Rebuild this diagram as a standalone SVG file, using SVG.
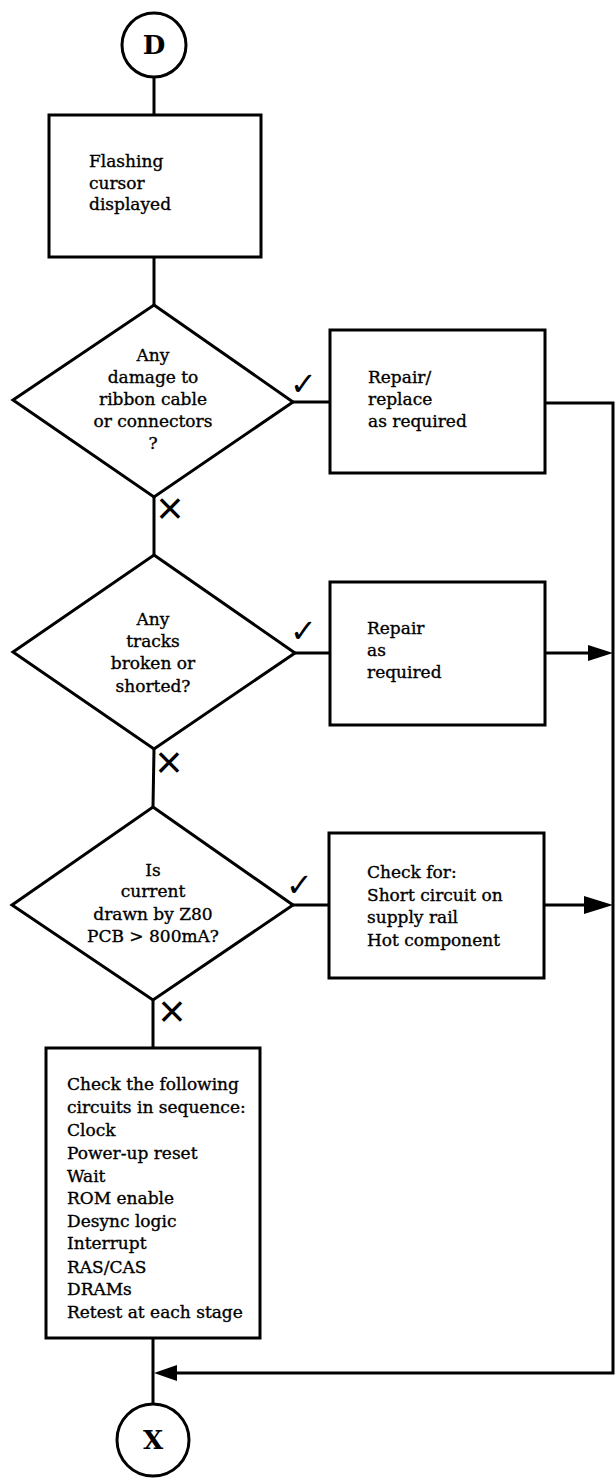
<svg xmlns="http://www.w3.org/2000/svg" width="615" height="1481" viewBox="0 0 615 1481">
<style>
.shape{fill:#fff;stroke:#000;stroke-width:3}
.ln{fill:none;stroke:#000;stroke-width:3}
.t{font-family:"DejaVu Serif","Liberation Serif",serif;font-size:17px;fill:#000;stroke:#000;stroke-width:0.35}
.c{text-anchor:middle}
.big{font-family:"DejaVu Serif","Liberation Serif",serif;font-size:26px;font-weight:bold;text-anchor:middle;fill:#000}
.ck{font-family:"DejaVu Sans",sans-serif;font-size:32px;fill:#000}
.x{font-family:"Liberation Sans",sans-serif;font-size:46px;text-anchor:middle;fill:#000}
</style>
<rect width="615" height="1481" fill="#fff"/>
<g id="connectors">
<line class="ln" x1="154" y1="77" x2="154" y2="115"/>
<line class="ln" x1="154" y1="257" x2="154" y2="305"/>
<line class="ln" x1="293" y1="402" x2="330" y2="402"/>
<polyline class="ln" points="545,403 613,403 613,1373 176,1373" stroke-width="2.5"/>
<path d="M154,1373L177,1365L177,1381z" fill="#000"/>
<line class="ln" x1="154" y1="497" x2="154" y2="555"/>
<line class="ln" x1="295" y1="653" x2="330" y2="653"/>
<line class="ln" x1="545" y1="653" x2="590" y2="653"/>
<path d="M613,653L588,645L588,661z" fill="#000"/>
<line class="ln" x1="154" y1="749" x2="153" y2="807"/>
<line class="ln" x1="293" y1="905" x2="329" y2="905"/>
<line class="ln" x1="544" y1="905" x2="586" y2="905" stroke-width="3.5"/>
<path d="M613,905L584,896L584,914z" fill="#000"/>
<line class="ln" x1="153" y1="1000" x2="153" y2="1048"/>
<line class="ln" x1="153" y1="1338" x2="153" y2="1404"/>
<text class="ck" x="290" y="395">✓</text>
<text class="ck" x="290" y="642">✓</text>
<text class="ck" x="286" y="896">✓</text>
<text class="x" x="170" y="524">×</text>
<text class="x" x="169" y="778">×</text>
<text class="x" x="172" y="1027">×</text>
</g>
<g id="start">
<circle class="shape" cx="154" cy="45" r="32"/>
<text class="big" x="154" y="54">D</text>
</g>
<g id="flashing">
<rect class="shape" x="49" y="115" width="212" height="142"/>
<text class="t" x="89" y="167">Flashing</text>
<text class="t" x="89" y="189">cursor</text>
<text class="t" x="89" y="210">displayed</text>
</g>
<g id="q-damage">
<polygon class="shape" points="154,305 293,402 154,497 13,400"/>
<text class="t c" x="153" y="361">Any</text>
<text class="t c" x="153" y="383">damage to</text>
<text class="t c" x="153" y="405">ribbon cable</text>
<text class="t c" x="153" y="427">or connectors</text>
<text class="t c" x="153" y="449">?</text>
</g>
<g id="repair-replace">
<rect class="shape" x="330" y="330" width="215" height="143"/>
<text class="t" x="368" y="383">Repair/</text>
<text class="t" x="368" y="405">replace</text>
<text class="t" x="368" y="427">as required</text>
</g>
<g id="q-tracks">
<polygon class="shape" points="154,555 295,653 154,749 13,652"/>
<text class="t c" x="153" y="625">Any</text>
<text class="t c" x="153" y="647">tracks</text>
<text class="t c" x="153" y="669">broken or</text>
<text class="t c" x="153" y="692">shorted?</text>
</g>
<g id="repair">
<rect class="shape" x="330" y="582" width="215" height="143"/>
<text class="t" x="367" y="634">Repair</text>
<text class="t" x="367" y="656">as</text>
<text class="t" x="367" y="678">required</text>
</g>
<g id="q-current">
<polygon class="shape" points="153,807 293,905 153,1000 12,905"/>
<text class="t c" x="153" y="876">Is</text>
<text class="t c" x="153" y="897">current</text>
<text class="t c" x="153" y="920">drawn by Z80</text>
<text class="t c" x="153" y="942">PCB &gt; 800mA?</text>
</g>
<g id="check-for">
<rect class="shape" x="329" y="833" width="215" height="145"/>
<text class="t" x="367" y="878">Check for:</text>
<text class="t" x="367" y="901">Short circuit on</text>
<text class="t" x="367" y="923">supply rail</text>
<text class="t" x="367" y="946">Hot component</text>
</g>
<g id="check-sequence">
<rect class="shape" x="46" y="1048" width="214" height="290"/>
<text class="t" x="67" y="1090">Check the following</text>
<text class="t" x="67" y="1113">circuits in sequence:</text>
<text class="t" x="67" y="1136">Clock</text>
<text class="t" x="67" y="1159">Power-up reset</text>
<text class="t" x="67" y="1182">Wait</text>
<text class="t" x="67" y="1204">ROM enable</text>
<text class="t" x="67" y="1227">Desync logic</text>
<text class="t" x="67" y="1249">Interrupt</text>
<text class="t" x="67" y="1273">RAS/CAS</text>
<text class="t" x="67" y="1295">DRAMs</text>
<text class="t" x="67" y="1318">Retest at each stage</text>
</g>
<g id="end">
<circle class="shape" cx="153" cy="1440" r="36"/>
<text class="big" x="153" y="1449">X</text>
</g>
</svg>
